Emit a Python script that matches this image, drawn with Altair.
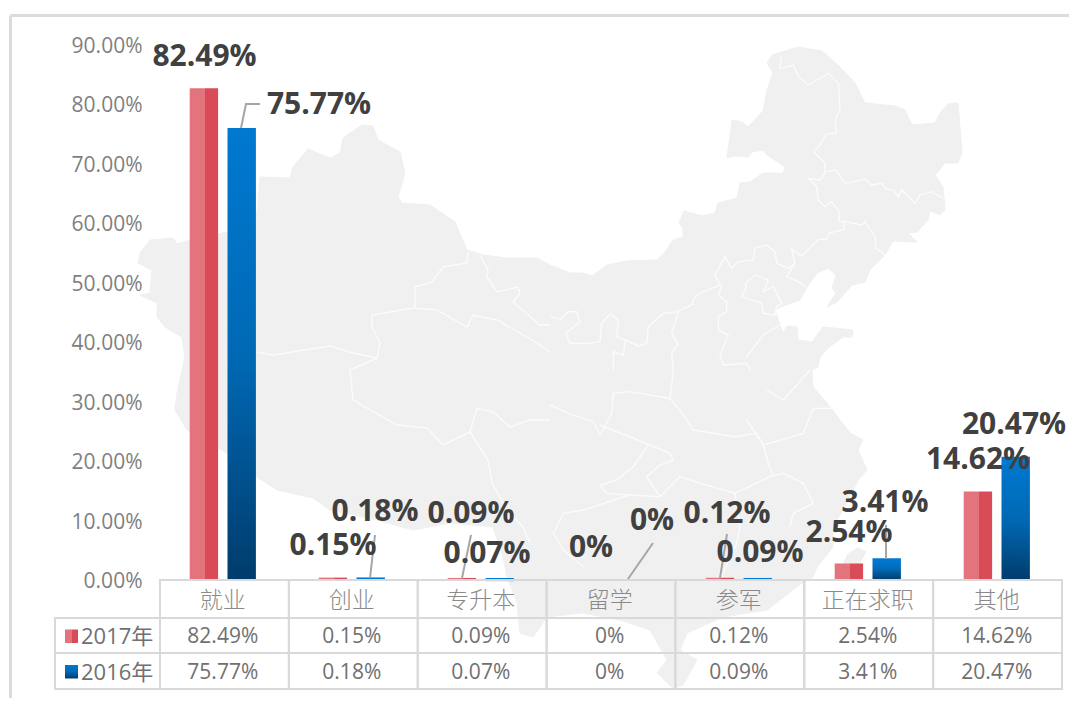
import altair as alt
import pandas as pd

# ---------- chart values ----------
categories = ["就业", "创业", "专升本", "留学", "参军", "正在求职", "其他"]
values_2017 = [82.49, 0.15, 0.09, 0, 0.12, 2.54, 14.62]
values_2016 = [75.77, 0.18, 0.07, 0, 0.09, 3.41, 20.47]
labels_2017 = ["82.49%", "0.15%", "0.09%", "0%", "0.12%", "2.54%", "14.62%"]
labels_2016 = ["75.77%", "0.18%", "0.07%", "0%", "0.09%", "3.41%", "20.47%"]
series_names = ["2017年", "2016年"]
axis_values = [0, 10, 20, 30, 40, 50, 60, 70, 80, 90]

# ---------- layout, in picture pixels ----------
PLOT_L, PLOT_T, PLOT_W, PLOT_H = 160, 45, 902, 535
CANVAS_W, CANVAS_H = 1061, 690
BAND = PLOT_W / 7
Y_UNIT = PLOT_H / 90
row_edges = [580, 618, 653, 689]
HEAD_L = 55
CENTER0, STEP = 222.8, 129.0
TEXT_NUDGE = 1.5


def ux(px):
    return (px - PLOT_L) / BAND


def uy(py):
    return (PLOT_T + PLOT_H - py) / Y_UNIT


def centre(i):
    return ux(CENTER0 + STEP * i)


XP = alt.X("x:Q", scale=alt.Scale(domain=[0, 7], nice=False, zero=False), axis=None)
YP = alt.Y(
    "y:Q",
    scale=alt.Scale(domain=[0, 90], nice=False, zero=False),
    axis=alt.Axis(
        values=axis_values,
        labelExpr="format(datum.value, '.2f') + '%'",
        domain=False,
        ticks=False,
        grid=False,
        title=None,
        labelFont="Open Sans",
        labelFontSize=21,
        labelColor="#7f7f7f",
        labelPadding=18,
        labelOffset=1.5,
    ),
)

# ---------- China backdrop, outline ----------
map_outline = [
    (140, 253), (150, 240), (173, 238), (177, 244), (190, 240), (227, 232), (257, 213), (260, 177),
    (290, 178), (293, 167), (308, 149), (330, 158), (340, 153), (343, 138), (362, 125), (373, 126),
    (378, 140), (400, 152), (405, 173), (398, 197), (402, 203), (430, 205), (455, 222), (467, 250),
    (483, 255), (507, 258), (537, 258), (550, 265), (570, 273), (583, 273), (592, 276), (607, 265),
    (627, 261), (657, 260), (665, 252), (673, 240), (683, 237), (683, 228), (679, 223), (684, 211),
    (703, 216), (715, 213), (718, 203), (737, 198), (740, 183), (750, 182), (763, 173), (783, 173),
    (785, 167), (767, 155), (763, 150), (752, 152), (748, 157), (733, 156), (727, 158), (732, 120),
    (742, 122), (748, 127), (763, 111), (767, 90), (773, 73), (767, 63), (772, 55), (798, 47),
    (822, 51), (840, 67), (855, 83), (865, 103), (895, 106), (905, 110), (912, 125), (935, 123),
    (940, 113), (948, 104), (958, 103), (962, 153), (958, 163), (945, 163), (935, 175), (943, 187),
    (945, 210), (940, 215), (930, 211), (928, 220), (917, 232), (908, 233), (917, 242), (893, 241),
    (885, 255), (870, 270), (865, 282), (852, 285), (837, 302), (827, 307), (836, 293), (832, 288),
    (836, 275), (828, 268), (817, 273), (807, 287), (800, 300), (783, 306), (775, 310), (780, 325),
    (783, 333), (787, 326), (797, 327), (798, 340), (812, 342), (823, 327), (853, 330), (852, 337),
    (843, 337), (828, 348), (820, 357), (818, 367), (812, 370), (813, 387), (827, 403), (850, 433),
    (863, 440), (858, 450), (867, 470), (858, 480), (847, 503), (833, 527), (833, 547), (817, 567),
    (813, 577), (802, 583), (767, 610), (723, 617), (687, 633), (680, 650), (697, 660), (683, 685),
    (673, 688), (657, 673), (667, 660), (650, 630), (620, 620), (583, 613), (547, 617), (533, 637),
    (520, 633), (517, 603), (507, 577), (503, 557), (493, 527), (450, 523), (413, 530), (377, 520),
    (330, 510), (313, 498), (277, 490), (257, 477), (227, 453), (187, 430), (175, 410), (177, 393),
    (185, 357), (182, 337), (165, 327), (157, 317), (157, 303), (140, 295), (150, 293), (152, 270),
    (138, 263),
]
map_taiwan = [(858, 548), (866, 552), (858, 566), (846, 578), (842, 566), (848, 554)]

map_borders_nw = [
    [(257, 352), (273, 355), (330, 346), (353, 353), (377, 358), (380, 343), (372, 327), (372, 315),
     (413, 308), (437, 310), (467, 327), (473, 315), (497, 320), (518, 332), (540, 345), (550, 352)],
    [(468, 252), (467, 263), (443, 267), (432, 282), (415, 287), (415, 307)],
    [(480, 255), (488, 270), (487, 277), (497, 292), (518, 287), (520, 293), (513, 302), (540, 325), (550, 325)],
    [(377, 358), (350, 370), (353, 400), (397, 425), (427, 428), (443, 445), (470, 432), (477, 408),
     (493, 412), (510, 427), (530, 420), (550, 420)],
    [(470, 432), (488, 460), (492, 483), (507, 510), (523, 527), (530, 543)],
]
map_borders_ne = [
    [(695, 45), (690, 85), (730, 75), (745, 110), (775, 135), (835, 100), (865, 130), (870, 210), (855, 240),
     (860, 280), (830, 280), (810, 315), (790, 335), (825, 370), (825, 400), (810, 420), (775, 415), (800, 440),
     (805, 480), (825, 500), (845, 485), (868, 515), (868, 545), (885, 545), (880, 570), (840, 578), (830, 598),
     (805, 598), (755, 648), (725, 628), (735, 670), (715, 685), (680, 670), (675, 635), (650, 615), (615, 625),
     (610, 660), (565, 665), (545, 685), (525, 650), (495, 705), (510, 735), (460, 755), (435, 770), (425, 795),
     (380, 815), (340, 820), (295, 860), (290, 910), (265, 918), (225, 900), (200, 890), (205, 840), (180, 822),
     (155, 850), (150, 905), (115, 910), (60, 910), (48, 880), (90, 845), (80, 815), (55, 815), (30, 838), (0, 830)],
    [(830, 395), (858, 390), (885, 430), (945, 418), (965, 435), (995, 430), (1005, 445), (1030, 450), (1045, 470),
     (1055, 450), (1095, 490), (1110, 465), (1145, 455), (1180, 475)],
    [(885, 545), (935, 555), (945, 545), (975, 590), (978, 625), (1000, 640), (1005, 650)],
    [(735, 670), (710, 710), (745, 725), (765, 740)],
    [(615, 705), (655, 720), (640, 755), (670, 740), (695, 790), (680, 800), (675, 825), (640, 820), (635, 790),
     (575, 770), (590, 740), (585, 730), (615, 705)],
    [(515, 735), (505, 765), (530, 785), (530, 815), (505, 830), (505, 870), (535, 885), (510, 945), (520, 975),
     (590, 970), (600, 990)],
    [(690, 855), (640, 885), (590, 950)],
    [(385, 815), (365, 880), (385, 915), (365, 935), (370, 990)],
    [(225, 900), (220, 945), (190, 935), (190, 990)],
]
map_borders_se = [
    [(0, 105), (55, 130), (130, 155), (150, 195), (185, 130), (190, 70), (240, 65), (360, 85), (370, 0)],
    [(360, 85), (400, 135), (430, 180), (555, 200), (620, 190), (640, 225), (655, 280), (670, 320)],
    [(150, 165), (300, 225), (360, 250), (370, 270), (330, 285), (290, 320), (330, 380), (390, 320), (450, 340),
     (555, 370), (660, 320), (700, 310), (760, 340), (790, 400), (730, 430), (720, 470)],
    [(295, 225), (250, 290), (200, 330), (150, 345), (170, 370), (240, 375), (330, 380)],
    [(590, 150), (640, 225), (760, 190), (790, 115), (860, 115)],
    [(650, 60), (700, 90), (780, 0)],
    [(555, 370), (570, 470), (560, 520), (510, 630)],
    [(240, 375), (100, 420), (40, 430), (10, 490), (40, 540), (100, 590)],
]

# ---------- data-label anchors and leader paths ----------
label_pos_2017 = [(204.5, 57), (333, 546), (471, 514), (591, 548), (727, 514), (849, 533), (978, 460)]
label_pos_2016 = [(319, 105), (375, 512), (487, 554), (652, 521), (760, 553), (885, 503), (1014, 425)]
leaders = [
    [(241, 128), (246, 104), (260, 104)],
    [(370, 578), (375, 535)],
    [(462, 578), (471, 535)],
    [(628, 579), (653, 543)],
    [(720, 578), (727, 534)],
    [(886, 559), (886, 525)],
]

FONT = "Open Sans, Noto Sans CJK SC"
RED = alt.LinearGradient(
    gradient="linear", x1=0, y1=0, x2=1, y2=0,
    stops=[
        alt.GradientStop(color="#e3737c", offset=0),
        alt.GradientStop(color="#e3737c", offset=0.53),
        alt.GradientStop(color="#d94b57", offset=0.53),
        alt.GradientStop(color="#d94b57", offset=1),
    ],
)
BLUE = alt.LinearGradient(
    gradient="linear", x1=0, y1=0, x2=0, y2=1,
    stops=[
        alt.GradientStop(color="#0079d0", offset=0),
        alt.GradientStop(color="#0069b5", offset=0.5),
        alt.GradientStop(color="#003c6c", offset=1),
    ],
)


def poly_rows(groups):
    rows = []
    for g, pts in enumerate(groups):
        for k, (px, py) in enumerate(pts):
            rows.append({"x": ux(px), "y": uy(py), "g": g, "k": k})
    return pd.DataFrame(rows)


def from_crop(groups, ox, oy):
    return [[(ox + a / 3, oy + b / 3) for a, b in pts] for pts in groups]


def path_layer(groups, **mark):
    return alt.Chart(poly_rows(groups)).mark_line(**mark).encode(
        x=XP, y=YP, detail="g:N", order="k:Q"
    )


# ---------- frame ----------
frame = alt.Chart(pd.DataFrame({
    "x": [ux(10.5), ux(10.5)], "x2": [ux(1069), ux(10.5)],
    "y": [uy(15.5), uy(15.5)], "y2": [uy(15.5), uy(698)],
})).mark_rule(color="#dcdcdc", strokeWidth=3).encode(x=XP, x2="x2:Q", y=YP, y2="y2:Q")

# ---------- map ----------
land = path_layer([map_outline + map_outline[:1], map_taiwan + map_taiwan[:1]],
                  fill="#f0f0f0", stroke="#f0f0f0", strokeWidth=1, interpolate="linear")
borders = path_layer(
    map_borders_nw + from_crop(map_borders_ne, 550, 40) + from_crop(map_borders_se, 550, 370),
    stroke="#fbfbfb", strokeWidth=1.4,
)

# ---------- bars ----------
GAP = 9.4 / BAND
STROKE = 3
BAR = (28.4 - STROKE) / BAND
INSET = (STROKE / 2) / BAND
BASE = 0.5 / Y_UNIT  # keeps the stroke's lower edge under the table's top border
b17 = pd.DataFrame({
    "x": [centre(i) - GAP / 2 - INSET - BAR for i in range(7)],
    "x2": [centre(i) - GAP / 2 - INSET for i in range(7)],
    "y": values_2017, "y2": [BASE] * 7,
})
b16 = pd.DataFrame({
    "x": [centre(i) + GAP / 2 + INSET for i in range(7)],
    "x2": [centre(i) + GAP / 2 + INSET + BAR for i in range(7)],
    "y": values_2016, "y2": [BASE] * 7,
})
b17 = b17[b17.y > 0]
b16 = b16[b16.y > 0]
bar17 = alt.Chart(b17).mark_bar(fill=RED, stroke=RED, strokeWidth=STROKE).encode(x=XP, x2="x2:Q", y=YP, y2="y2:Q")
bar16 = alt.Chart(b16).mark_bar(fill=BLUE, stroke=BLUE, strokeWidth=STROKE).encode(x=XP, x2="x2:Q", y=YP, y2="y2:Q")

# ---------- data table ----------
cells = []
for r in range(3):
    for c in range(7):
        cells.append({"x": c, "x2": c + 1, "y": uy(row_edges[r]), "y2": uy(row_edges[r + 1])})
for r in (1, 2):
    cells.append({"x": ux(HEAD_L), "x2": 0, "y": uy(row_edges[r]), "y2": uy(row_edges[r + 1])})
table = alt.Chart(pd.DataFrame(cells)).mark_rect(
    fill="transparent", stroke="#d9d9d9", strokeWidth=2
).encode(x=XP, x2="x2:Q", y=YP, y2="y2:Q")


def row_mid(r):
    return uy((row_edges[r] + row_edges[r + 1]) / 2 + TEXT_NUDGE)


head_text = alt.Chart(pd.DataFrame({
    "x": [centre(i) for i in range(7)], "y": [row_mid(0)] * 7, "t": categories,
})).mark_text(font="Noto Sans CJK SC", fontSize=23, fontWeight=300, color="#8a8a8a", baseline="middle").encode(
    x=XP, y=YP, text="t:N")

val_text = alt.Chart(pd.DataFrame({
    "x": [centre(i) for i in range(7)] * 2,
    "y": [row_mid(1)] * 7 + [row_mid(2)] * 7,
    "t": labels_2017 + labels_2016,
})).mark_text(font=FONT, fontSize=21, color="#707070", baseline="middle").encode(x=XP, y=YP, text="t:N")

name_text = alt.Chart(pd.DataFrame({
    "x": [ux(81)] * 2, "y": [row_mid(1), row_mid(2)], "t": series_names,
})).mark_text(font=FONT, fontSize=22, color="#707070", align="left", baseline="middle").encode(
    x=XP, y=YP, text="t:N")

sw17 = alt.Chart(pd.DataFrame({"x": [ux(65)], "x2": [ux(78)], "y": [uy(629.5)], "y2": [uy(643)]})).mark_rect(
    fill=RED).encode(x=XP, x2="x2:Q", y=YP, y2="y2:Q")
sw16 = alt.Chart(pd.DataFrame({"x": [ux(65)], "x2": [ux(78)], "y": [uy(665)], "y2": [uy(678.5)]})).mark_rect(
    fill=BLUE).encode(x=XP, x2="x2:Q", y=YP, y2="y2:Q")

# ---------- leaders and data labels ----------
leader_lines = path_layer(leaders, stroke="#a6a6a6", strokeWidth=2)

pos = label_pos_2017 + label_pos_2016
data_labels = alt.Chart(pd.DataFrame({
    "x": [ux(p[0]) for p in pos], "y": [uy(p[1]) for p in pos],
    "t": labels_2017 + labels_2016,
})).mark_text(font=FONT, fontSize=30, fontWeight="bold", color="#404040", baseline="middle").encode(
    x=XP, y=YP, text="t:N")

chart = alt.layer(
    frame, land, borders, bar17, bar16, table, head_text, val_text, name_text, sw17, sw16,
    leader_lines, data_labels,
).properties(
    width=PLOT_W,
    height=PLOT_H,
    padding={"left": PLOT_L - 8, "top": PLOT_T - 8, "right": CANVAS_W - (PLOT_L - 8) - PLOT_W,
             "bottom": CANVAS_H - (PLOT_T - 8) - PLOT_H},
    autosize=alt.AutoSizeParams(type="none"),
    background="white",
).configure_view(stroke=None)

chart.save("out.html", embed_options={"renderer": "svg", "actions": False})
